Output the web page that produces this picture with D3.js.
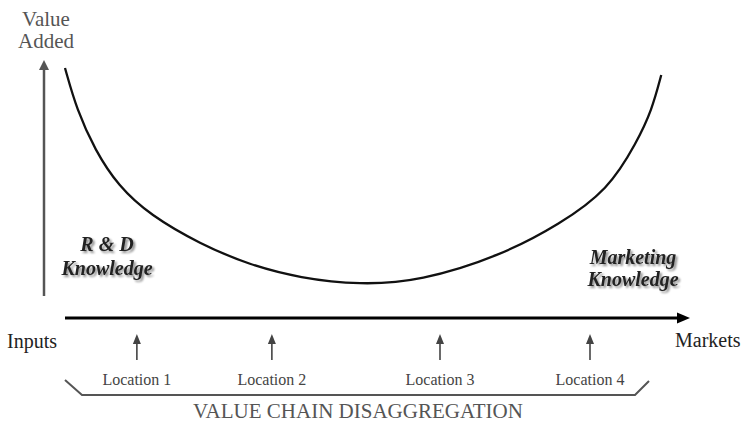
<!DOCTYPE html>
<html>
<head>
<meta charset="utf-8">
<script src="https://cdn.jsdelivr.net/npm/d3@7"></script>
<style>
  html, body { margin: 0; padding: 0; background: #fff; }
  svg { display: block; }
</style>
</head>
<body>
<svg id="chart" width="742" height="427"></svg>
<script>
// ---- data ----
// position along the value chain (0 = inputs, 100 = markets)
const chainPosition = [0, 1.9, 4.8, 8.5, 13.6, 21.6, 29.6, 37.6, 47.2, 56.8, 69.6, 79.2, 86.9, 91.5, 93.9, 95.4];
// value added at each position (0 = axis, 100 = top)
const valueAdded    = [96.9, 80.6, 65.1, 51.2, 39.9, 28.7, 20.5, 15.5, 12.8, 14.3, 24.0, 36.4, 49.6, 68.2, 80.6, 94.2];
const locations = ["Location 1", "Location 2", "Location 3", "Location 4"];
const locationPositions = [11.5, 33.1, 60.0, 84.0];
const yAxisLabel = ["Value", "Added"];
const xStartLabel = "Inputs";
const xEndLabel = "Markets";
const leftKnowledge = ["R & D", "Knowledge"];
const rightKnowledge = ["Marketing", "Knowledge"];
const bracketTitle = "VALUE CHAIN DISAGGREGATION";

// ---- layout ----
const svg = d3.select("#chart");
const x = d3.scaleLinear().domain([0, 100]).range([65, 690]);
const y = d3.scaleLinear().domain([0, 100]).range([318, 60]);
const serif = "'Liberation Serif', 'Times New Roman', serif";

const defs = svg.append("defs");
const f = defs.append("filter").attr("id", "shadow")
  .attr("x", "-10%").attr("y", "-30%").attr("width", "130%").attr("height", "170%");
f.append("feGaussianBlur").attr("in", "SourceAlpha").attr("stdDeviation", 1.3).attr("result", "b");
f.append("feOffset").attr("in", "b").attr("dx", 2).attr("dy", 2).attr("result", "o");
f.append("feComponentTransfer").attr("in", "o").attr("result", "s")
  .append("feFuncA").attr("type", "linear").attr("slope", 0.45);
const m = f.append("feMerge");
m.append("feMergeNode").attr("in", "s");
m.append("feMergeNode").attr("in", "SourceGraphic");

// y axis (vertical arrow)
const yAxisX = 44;
svg.append("line")
  .attr("x1", yAxisX).attr("x2", yAxisX)
  .attr("y1", 296).attr("y2", y(100) + 8)
  .attr("stroke", "#555").attr("stroke-width", 2.5);
svg.append("path")
  .attr("d", `M${yAxisX},${y(100)} L${yAxisX - 5},${y(100) + 10} L${yAxisX + 5},${y(100) + 10} Z`)
  .attr("fill", "#555");

// x axis (horizontal arrow)
svg.append("line")
  .attr("x1", x(0)).attr("x2", x(100) - 10)
  .attr("y1", y(0)).attr("y2", y(0))
  .attr("stroke", "#000").attr("stroke-width", 3);
svg.append("path")
  .attr("d", `M${x(100)},${y(0)} L${x(100) - 13},${y(0) - 5.5} L${x(100) - 13},${y(0) + 5.5} Z`)
  .attr("fill", "#000");

// smile curve
const pts = chainPosition.map((p, i) => [p, valueAdded[i]]);
svg.append("path")
  .datum(pts)
  .attr("d", d3.line().x(d => x(d[0])).y(d => y(d[1])).curve(d3.curveBasis))
  .attr("fill", "none").attr("stroke", "#111").attr("stroke-width", 2.3);

// y axis label
svg.append("g").selectAll("text").data(yAxisLabel).join("text")
  .attr("x", 46).attr("y", (d, i) => 26 + i * 22)
  .attr("text-anchor", "middle")
  .attr("font-family", serif).attr("font-size", 21).attr("fill", "#555")
  .text(d => d);

// end labels
svg.append("text").attr("x", 7).attr("y", 348)
  .attr("font-family", serif).attr("font-size", 20).attr("fill", "#222").text(xStartLabel);
svg.append("text").attr("x", 675).attr("y", 347)
  .attr("font-family", serif).attr("font-size", 20).attr("fill", "#222").text(xEndLabel);

// knowledge labels
svg.append("g").selectAll("text").data(leftKnowledge).join("text")
  .attr("x", 107).attr("y", (d, i) => 251 + i * 24)
  .attr("text-anchor", "middle")
  .attr("font-family", serif).attr("font-size", 20).attr("font-weight", "bold").attr("font-style", "italic")
  .attr("fill", "#222").attr("filter", "url(#shadow)")
  .text(d => d);
svg.append("g").selectAll("text").data(rightKnowledge).join("text")
  .attr("x", 633).attr("y", (d, i) => 264 + i * 22)
  .attr("text-anchor", "middle")
  .attr("font-family", serif).attr("font-size", 20).attr("font-weight", "bold").attr("font-style", "italic")
  .attr("fill", "#222").attr("filter", "url(#shadow)")
  .text(d => d);

// location arrows + labels
const locG = svg.append("g").selectAll("g").data(locations).join("g")
  .attr("transform", (d, i) => `translate(${x(locationPositions[i])},0)`);
locG.append("line").attr("x1", 0).attr("x2", 0).attr("y1", 360).attr("y2", 343)
  .attr("stroke", "#444").attr("stroke-width", 1.6);
locG.append("path").attr("d", "M0,334 L-4,344 L4,344 Z").attr("fill", "#444");
locG.append("text").attr("x", 0).attr("y", 385)
  .attr("text-anchor", "middle")
  .attr("font-family", serif).attr("font-size", 16).attr("fill", "#444")
  .text(d => d);

// bracket
svg.append("path")
  .attr("d", `M${x(0)},380 L82,395 L635,395 L649,381`)
  .attr("fill", "none").attr("stroke", "#555").attr("stroke-width", 2);

svg.append("text").attr("x", 358).attr("y", 418)
  .attr("text-anchor", "middle")
  .attr("font-family", serif).attr("font-size", 21).attr("fill", "#555")
  .text(bracketTitle);
</script>
</body>
</html>
